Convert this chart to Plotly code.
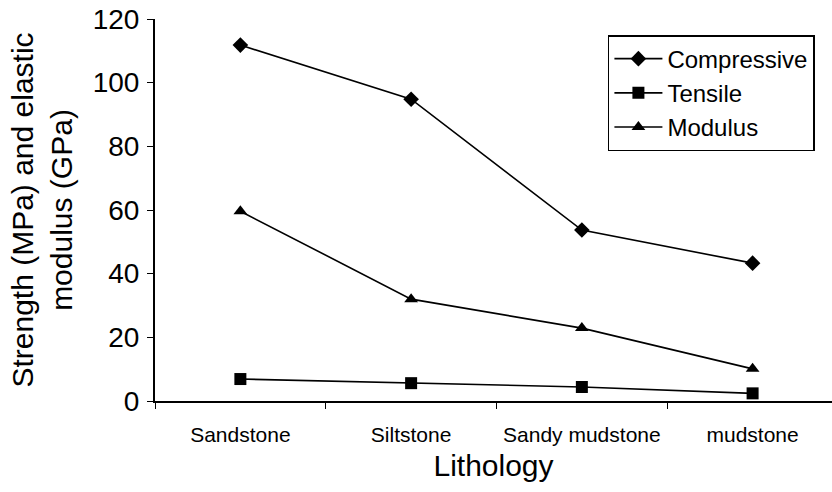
import plotly.graph_objects as go

# Rock mechanics by lithology
lithology = ["Sandstone", "Siltstone", "Sandy mudstone", "mudstone"]
compressive = [111.8, 94.8, 53.7, 43.3]
tensile = [6.9, 5.6, 4.4, 2.4]
modulus = [59.6, 32.0, 22.9, 10.1]

series = [
    ("Compressive", compressive, "diamond"),
    ("Tensile", tensile, "square"),
    ("Modulus", modulus, "triangle-up"),
]

fig = go.Figure()
for name, vals, sym in series:
    fig.add_trace(go.Scatter(
        x=lithology, y=vals, name=name, mode="lines+markers",
        line=dict(color="black", width=1.6),
        marker=dict(symbol=sym, size=12, color="black"),
    ))

font_family = "Liberation Sans"
fig.update_layout(
    width=832, height=492,
    margin=dict(l=155, r=0, t=19, b=91),
    paper_bgcolor="white", plot_bgcolor="white",
    font=dict(family=font_family, color="black"),
    showlegend=True,
    legend=dict(
        x=0.669, y=0.958, xanchor="left", yanchor="top",
        bordercolor="black", borderwidth=1.5,
        font=dict(size=24, color="black"),
        bgcolor="white", itemwidth=48,
        tracegroupgap=0,
    ),
    xaxis=dict(
        type="category", range=[-0.5, 3.465],
        showline=True, linecolor="black", linewidth=2,
        ticks="outside", tickson="boundaries", ticklen=6, tickcolor="black",
        tickfont=dict(size=21), ticklabelstandoff=14,
        showgrid=False, zeroline=False,
        title=dict(text="Lithology", font=dict(size=30), standoff=10),
    ),
    yaxis=dict(
        range=[0, 120], tickvals=[0, 20, 40, 60, 80, 100, 120],
        showline=True, linecolor="black", linewidth=2,
        ticks="outside", ticklen=6, tickcolor="black",
        tickfont=dict(size=28), ticklabelstandoff=2,
        showgrid=False, zeroline=False,
        title=dict(text="Strength (MPa) and elastic<br>modulus (GPa)",
                   font=dict(size=30), standoff=11),
    ),
)

fig.write_html("out.html")
